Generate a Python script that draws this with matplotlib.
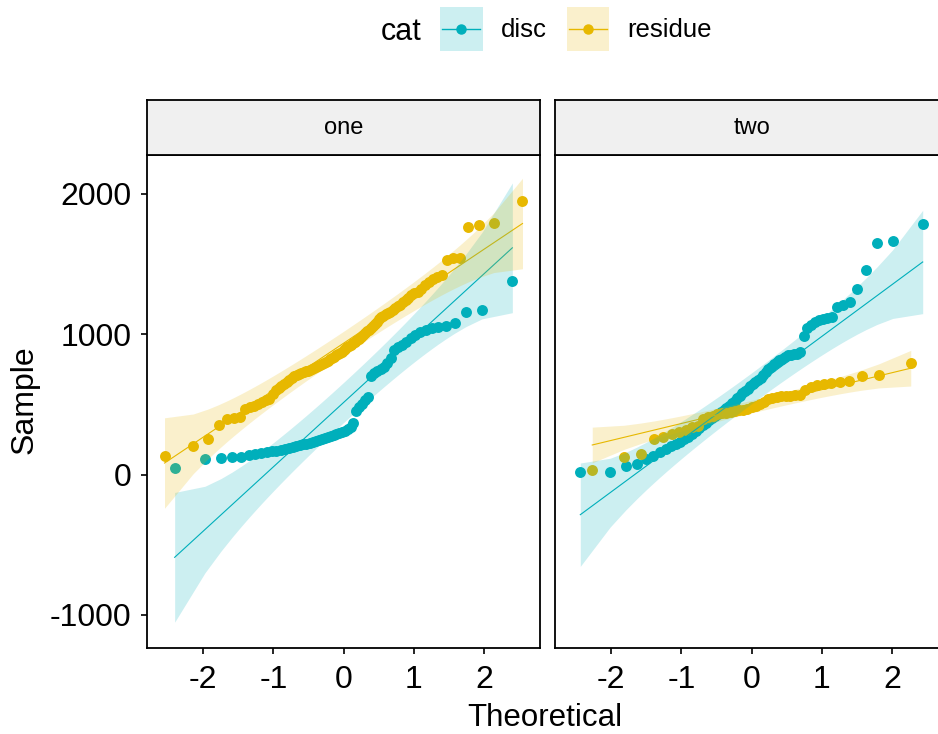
import numpy as np
import matplotlib
matplotlib.use("Agg")
import matplotlib.pyplot as plt
from matplotlib.patches import Rectangle
from matplotlib.lines import Line2D
from statistics import NormalDist

plt.rcParams['font.family'] = ['Liberation Sans', 'DejaVu Sans']
plt.rcParams['axes.unicode_minus'] = False

panels = ['one', 'two']
cats = ['disc', 'residue']
colors = {'disc': '#00AFBB', 'residue': '#E7B800'}

# sample values (sorted)
one_disc = [45, 110, 120, 122, 128, 138, 145, 152, 158, 165,
            170, 176, 182, 188, 195, 202, 208, 214, 220, 226,
            232, 238, 244, 250, 258, 266, 275, 282, 290, 298,
            306, 312, 322, 335, 365, 450, 480, 505, 530, 555,
            700, 720, 735, 748, 765, 795, 830, 885, 905, 920,
            945, 970, 995, 1015, 1030, 1040, 1048, 1058, 1080, 1160,
            1172, 1376]
one_residue = [135, 206, 250, 355, 396, 402, 410, 470, 480, 490,
               500, 515, 528, 540, 570, 605, 618, 632, 645, 658,
               672, 690, 700, 709, 716, 722, 728, 734, 740, 746,
               752, 758, 764, 770, 777, 784, 792, 800, 810, 820,
               830, 840, 850, 858, 866, 875, 885, 895, 905, 915,
               925, 935, 945, 955, 965, 980, 995, 1008, 1020, 1030,
               1040, 1055, 1070, 1085, 1105, 1120, 1130, 1140, 1150, 1160,
               1170, 1185, 1200, 1210, 1225, 1240, 1255, 1275, 1290, 1300,
               1320, 1350, 1370, 1390, 1405, 1420, 1530, 1540, 1545, 1760,
               1775, 1790, 1950]
two_disc = [15, 15, 58, 78, 110, 135, 160, 180, 200, 215,
            232, 250, 270, 290, 310, 330, 350, 370, 385, 400,
            415, 430, 445, 460, 475, 490, 508, 525, 542, 560,
            578, 595, 612, 628, 645, 660, 675, 690, 708, 728,
            750, 768, 785, 800, 812, 825, 838, 848, 854, 858,
            860, 870, 985, 1040, 1065, 1085, 1098, 1105, 1112, 1122,
            1190, 1205, 1225, 1320, 1455, 1645, 1660, 1786]
two_residue = [35, 122, 148, 250, 270, 290, 305, 320, 335, 345,
               395, 410, 420, 430, 436, 440, 445, 450, 456, 463,
               470, 478, 488, 502, 520, 538, 548, 554, 558, 561,
               562, 563, 567, 600, 625, 638, 642, 650, 660, 668,
               700, 712, 795]

samples = {
    ('one', 'disc'): one_disc,
    ('one', 'residue'): one_residue,
    ('two', 'disc'): two_disc,
    ('two', 'residue'): two_residue,
}

x_ticks = [-2, -1, 0, 1, 2]
y_ticks = [-1000, 0, 1000, 2000]

nd = NormalDist()


def qq_stats(values, conf=0.95):
    y = np.sort(np.asarray(values, dtype=float))
    n = len(y)
    a = 3 / 8 if n <= 10 else 0.5
    p = (np.arange(1, n + 1) - a) / (n + 1 - 2 * a)
    z = np.array([nd.inv_cdf(v) for v in p])
    # qq line through the quartiles
    q1, q3 = np.quantile(y, [0.25, 0.75])
    z1, z3 = nd.inv_cdf(0.25), nd.inv_cdf(0.75)
    slope = (q3 - q1) / (z3 - z1)
    intercept = q1 - slope * z1
    fit = intercept + slope * z
    zz = nd.inv_cdf(1 - (1 - conf) / 2)
    dens = np.array([nd.pdf(v) for v in z])
    se = slope / dens * np.sqrt(p * (1 - p) / n)
    return z, y, fit, fit - zz * se, fit + zz * se


class KeyHandler:
    # ribbon box + line + point, like the ggplot legend key
    def legend_artist(self, legend, orig_handle, fontsize, handlebox):
        c = orig_handle.get_color()
        x0, y0 = -handlebox.xdescent, -handlebox.ydescent
        w, h = handlebox.width, handlebox.height
        tr = handlebox.get_transform()
        rect = Rectangle((x0, y0), w, h, facecolor=c, alpha=0.2, edgecolor='none', transform=tr)
        line = Line2D([x0 + 0.05 * w, x0 + 0.95 * w], [y0 + h / 2] * 2, color=c, lw=1.0, transform=tr)
        dot = Line2D([x0 + w / 2], [y0 + h / 2], color=c, marker='o', ms=6.5, lw=0, transform=tr)
        for art in (rect, line, dot):
            handlebox.add_artist(art)
        return rect


W, H = 938, 734
fig = plt.figure(figsize=(W / 100, H / 100), dpi=100)


def frac(x0, y0, x1, y1):
    return [x0 / W, 1 - y1 / H, (x1 - x0) / W, (y1 - y0) / H]


panel_left = {'one': 147, 'two': 555}
pw = 393

for name in panels:
    left = panel_left[name]
    ax = fig.add_axes(frac(left, 155, left + pw, 648))
    strip = fig.add_axes(frac(left, 100, left + pw, 155))

    for cat in cats:
        z, y, fit, lo, hi = qq_stats(samples[(name, cat)])
        c = colors[cat]
        ax.scatter(z, y, s=62, color=c, linewidths=0, zorder=2)
        ax.plot(z, fit, color=c, lw=0.8, zorder=3)
        ax.fill_between(z, lo, hi, color=c, alpha=0.2, lw=0, zorder=4)

    ax.set_xlim(-2.8, 2.8)
    ax.set_ylim(-1235, 2275)
    ax.set_xticks(x_ticks)
    ax.set_xticklabels([str(t) for t in x_ticks])
    ax.set_yticks(y_ticks)
    ax.tick_params(direction='out', length=4, width=1.2, labelsize=23, pad=7, color='black')
    ax.tick_params(axis='x', pad=8)
    if name == 'two':
        ax.tick_params(axis='y', left=False, labelleft=False)
    for s in ax.spines.values():
        s.set_linewidth(1.3)
        s.set_color('black')

    strip.set_facecolor('#F0F0F0')
    strip.set_xticks([])
    strip.set_yticks([])
    for s in strip.spines.values():
        s.set_linewidth(1.3)
    strip.text(0.5, 0.5, name, ha='center', va='center', fontsize=17, transform=strip.transAxes)

fig.text(25 / W, 1 - 400 / H, 'Sample', rotation=90, ha='center', va='center', fontsize=23)
fig.text(545 / W, 1 - 718 / H, 'Theoretical', ha='center', va='center', fontsize=22.5)

# legend on top
handles = [Line2D([], [], color=colors[c]) for c in cats]
fig.legend(handles, cats, loc='center', bbox_to_anchor=(576 / W, 1 - 29 / H), ncol=2,
           frameon=False, fontsize=18.5, handlelength=1.65, handleheight=2.2,
           handletextpad=0.7, columnspacing=0.8, borderpad=0, borderaxespad=0,
           handler_map={Line2D: KeyHandler()})
fig.text(401 / W, 1 - 32 / H, 'cat', ha='center', va='center', fontsize=22)

fig.savefig('out.png', dpi=100)
